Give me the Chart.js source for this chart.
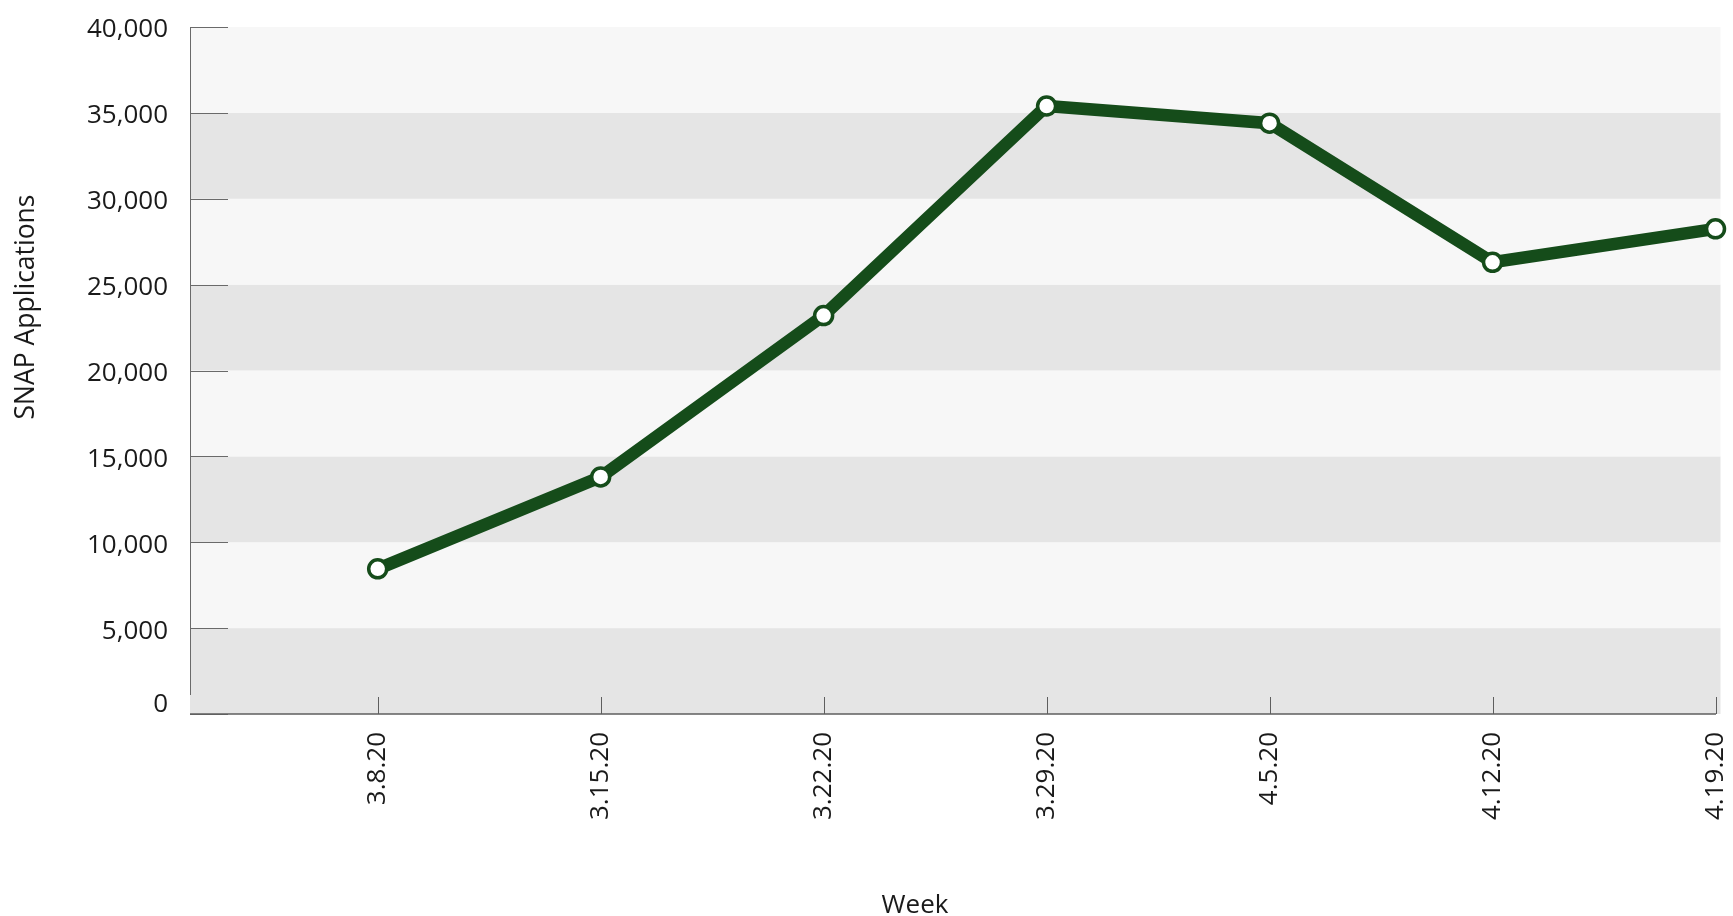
<!DOCTYPE html>
<html>
<head>
<meta charset="utf-8">
<script src="https://cdn.jsdelivr.net/npm/chart.js@4.4.1/dist/chart.umd.min.js"></script>
<style>
  html, body { margin: 0; padding: 0; background: #ffffff; }
  canvas { display: block; }
</style>
</head>
<body>
<canvas id="chart" width="1733" height="916"></canvas>
<script>
// ---- data ----
const weeks = ['3.8.20', '3.15.20', '3.22.20', '3.29.20', '4.5.20', '4.12.20', '4.19.20'];
const snapApplications = [8450, 13800, 23200, 35400, 34400, 26300, 28250];
const yTickValues = [0, 5000, 10000, 15000, 20000, 25000, 30000, 35000, 40000];
const yTickLabels = ['0', '5,000', '10,000', '15,000', '20,000', '25,000', '30,000', '35,000', '40,000'];
const xAxisTitle = 'Week';
const yAxisTitle = 'SNAP Applications';

// ---- style ----
const FONT = '"Open Sans", "Noto Sans", sans-serif';
const LINE_COLOR = '#154c1a';
const BAND_LIGHT = '#f7f7f7';
const BAND_DARK = '#e5e5e5';
const AXIS_COLOR = '#6a6a6a';
const TEXT_COLOR = '#1a1a1a';

const decorPlugin = {
  id: 'decor',
  beforeDatasetsDraw(chart) {
    const { ctx, chartArea: ca, scales: { x, y } } = chart;
    ctx.save();
    // alternating bands
    for (let i = 0; i < yTickValues.length - 1; i++) {
      const top = y.getPixelForValue(yTickValues[i + 1]);
      const bot = y.getPixelForValue(yTickValues[i]);
      ctx.fillStyle = (i % 2 === 0) ? BAND_DARK : BAND_LIGHT;
      ctx.fillRect(ca.left, top, ca.right - ca.left, bot - top);
    }
    const y0 = Math.round(y.getPixelForValue(0));
    // vertical axis line
    ctx.strokeStyle = AXIS_COLOR;
    ctx.lineWidth = 1;
    ctx.beginPath();
    ctx.moveTo(ca.left + 0.5, ca.top);
    ctx.lineTo(ca.left + 0.5, y0 - 19);
    ctx.stroke();
    // inward y tick marks
    ctx.beginPath();
    yTickValues.forEach(v => {
      const py = Math.round(y.getPixelForValue(v)) + 0.5;
      ctx.moveTo(ca.left, py);
      ctx.lineTo(ca.left + 38, py);
    });
    ctx.stroke();
    // x axis line
    ctx.lineWidth = 1.5;
    ctx.strokeStyle = '#5e5e5e';
    ctx.beginPath();
    ctx.moveTo(ca.left, y0);
    ctx.lineTo(x.getPixelForValue(weeks.length - 1) + 0.5, y0);
    ctx.stroke();
    // inward x tick marks
    ctx.lineWidth = 1;
    ctx.beginPath();
    weeks.forEach((w, i) => {
      const px = Math.round(x.getPixelForValue(i)) + 0.5;
      ctx.moveTo(px, y0);
      ctx.lineTo(px, y0 - 17);
    });
    ctx.stroke();
    ctx.restore();
  },
  afterDraw(chart) {
    const { ctx } = chart;
    ctx.save();
    ctx.fillStyle = TEXT_COLOR;
    ctx.font = '26px ' + FONT;
    ctx.textAlign = 'center';
    ctx.textBaseline = 'alphabetic';
    ctx.fillText(xAxisTitle, 915, 913);
    ctx.translate(26, 307);
    ctx.rotate(-Math.PI / 2);
    ctx.textBaseline = 'middle';
    ctx.font = '26.5px ' + FONT;
    ctx.fillText(yAxisTitle, 0, 0);
    ctx.restore();
  }
};

new Chart(document.getElementById('chart'), {
  type: 'line',
  data: {
    datasets: [{
      label: yAxisTitle,
      data: weeks.map((w, i) => ({ x: i, y: snapApplications[i] })),
      borderColor: LINE_COLOR,
      borderWidth: 12.5,
      tension: 0,
      fill: false,
      clip: false,
      pointRadius: 9,
      pointHoverRadius: 9,
      pointBorderWidth: 3.5,
      pointBackgroundColor: '#ffffff',
      pointBorderColor: LINE_COLOR
    }]
  },
  options: {
    responsive: false,
    devicePixelRatio: 1,
    animation: false,
    events: [],
    layout: { padding: { top: 27, right: 10, bottom: 0, left: 0 } },
    plugins: { legend: { display: false }, tooltip: { enabled: false } },
    scales: {
      x: {
        type: 'linear',
        min: -0.8418,
        max: 6.0224,
        grid: { display: false, drawTicks: false },
        border: { display: false },
        afterBuildTicks: s => { s.ticks = weeks.map((w, i) => ({ value: i })); },
        afterFit: s => { s.height = 202; s.paddingLeft = 0; s.paddingRight = 0; },
        ticks: {
          autoSkip: false,
          minRotation: 90,
          maxRotation: 90,
          padding: 18,
          color: TEXT_COLOR,
          font: { family: FONT, size: 26 },
          callback: (v, i) => weeks[i]
        }
      },
      y: {
        type: 'linear',
        min: 0,
        max: 40000,
        grid: { display: false, drawTicks: false },
        border: { display: false },
        afterBuildTicks: s => { s.ticks = yTickValues.map(v => ({ value: v })); },
        afterFit: s => { s.width = 190; s.paddingTop = 0; s.paddingBottom = 0; },
        ticks: {
          padding: 22,
          labelOffset: 3,
          color: TEXT_COLOR,
          font: ctx => ({ family: FONT, size: 26, lineHeight: ctx.index === 0 ? '24px' : 1.2 }),
          callback: (v, i) => i === 0 ? [yTickLabels[0], ''] : yTickLabels[i]
        }
      }
    }
  },
  plugins: [decorPlugin]
});
</script>
</body>
</html>
